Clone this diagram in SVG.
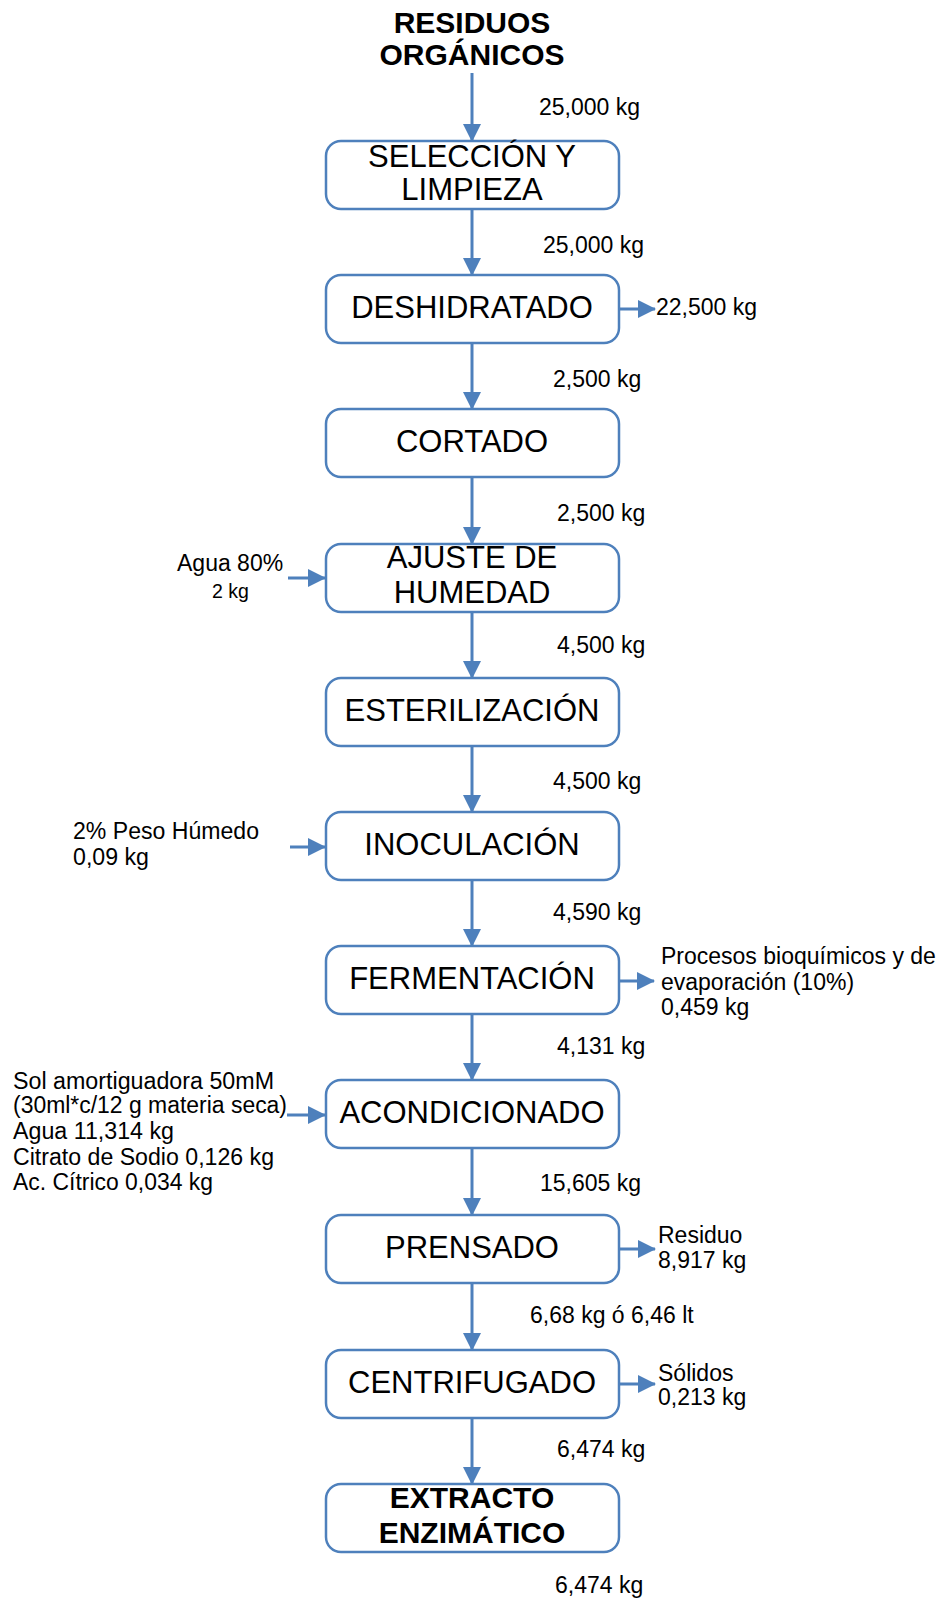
<svg xmlns="http://www.w3.org/2000/svg" width="943" height="1601" viewBox="0 0 943 1601">
<defs>
<style>
.box{fill:#fff;stroke:#4E80BC;stroke-width:2.5}
.ln{stroke:#4E80BC;stroke-width:3;fill:none}
.bt{font-family:"Liberation Sans",Arial,sans-serif;font-size:31px;fill:#000;text-anchor:middle}
.bb{font-family:"Liberation Sans",Arial,sans-serif;font-size:30px;font-weight:bold;fill:#000;text-anchor:middle}
.lb{font-family:"Liberation Sans",Arial,sans-serif;font-size:23px;fill:#000}
.sm{font-family:"Liberation Sans",Arial,sans-serif;font-size:19.5px;fill:#000}
</style>
<marker id="ah" markerUnits="userSpaceOnUse" markerWidth="18" markerHeight="18" refX="17" refY="9" orient="auto">
<path d="M0,0 L18,9 L0,18 z" fill="#4E80BC"/>
</marker>
</defs>
<rect width="943" height="1601" fill="#fff"/>

<g id="connectors">
<line class="ln" x1="472" y1="73" x2="472" y2="141" marker-end="url(#ah)"/>
<line class="ln" x1="472" y1="209" x2="472" y2="275" marker-end="url(#ah)"/>
<line class="ln" x1="472" y1="343" x2="472" y2="409" marker-end="url(#ah)"/>
<line class="ln" x1="472" y1="477" x2="472" y2="544" marker-end="url(#ah)"/>
<line class="ln" x1="472" y1="612" x2="472" y2="678" marker-end="url(#ah)"/>
<line class="ln" x1="472" y1="746" x2="472" y2="812" marker-end="url(#ah)"/>
<line class="ln" x1="472" y1="880" x2="472" y2="946" marker-end="url(#ah)"/>
<line class="ln" x1="472" y1="1014" x2="472" y2="1080" marker-end="url(#ah)"/>
<line class="ln" x1="472" y1="1148" x2="472" y2="1215" marker-end="url(#ah)"/>
<line class="ln" x1="472" y1="1283" x2="472" y2="1350" marker-end="url(#ah)"/>
<line class="ln" x1="472" y1="1418" x2="472" y2="1484" marker-end="url(#ah)"/>
<line class="ln" x1="619" y1="309" x2="655" y2="309" marker-end="url(#ah)"/>
<line class="ln" x1="619" y1="981" x2="654" y2="981" marker-end="url(#ah)"/>
<line class="ln" x1="619" y1="1249" x2="655" y2="1249" marker-end="url(#ah)"/>
<line class="ln" x1="619" y1="1384" x2="655" y2="1384" marker-end="url(#ah)"/>
<line class="ln" x1="288" y1="578" x2="325" y2="578" marker-end="url(#ah)"/>
<line class="ln" x1="290" y1="847" x2="325" y2="847" marker-end="url(#ah)"/>
<line class="ln" x1="287" y1="1115" x2="325" y2="1115" marker-end="url(#ah)"/>
</g>

<g id="n-residuos">
<text class="bb" x="472" y="33">RESIDUOS</text>
<text class="bb" x="472" y="65">ORGÁNICOS</text>
</g>
<g id="n-seleccion">
<rect class="box" x="326" y="141" width="293" height="68" rx="15"/>
<text class="bt" x="472" y="167">SELECCIÓN Y</text>
<text class="bt" x="472" y="200">LIMPIEZA</text>
</g>
<g id="n-deshidratado">
<rect class="box" x="326" y="275" width="293" height="68" rx="15"/>
<text class="bt" x="472" y="318">DESHIDRATADO</text>
</g>
<g id="n-cortado">
<rect class="box" x="326" y="409" width="293" height="68" rx="15"/>
<text class="bt" x="472" y="452">CORTADO</text>
</g>
<g id="n-ajuste">
<rect class="box" x="326" y="544" width="293" height="68" rx="15"/>
<text class="bt" x="472" y="568">AJUSTE DE</text>
<text class="bt" x="472" y="603">HUMEDAD</text>
</g>
<g id="n-esterilizacion">
<rect class="box" x="326" y="678" width="293" height="68" rx="15"/>
<text class="bt" x="472" y="721">ESTERILIZACIÓN</text>
</g>
<g id="n-inoculacion">
<rect class="box" x="326" y="812" width="293" height="68" rx="15"/>
<text class="bt" x="472" y="855">INOCULACIÓN</text>
</g>
<g id="n-fermentacion">
<rect class="box" x="326" y="946" width="293" height="68" rx="15"/>
<text class="bt" x="472" y="989">FERMENTACIÓN</text>
</g>
<g id="n-acondicionado">
<rect class="box" x="326" y="1080" width="293" height="68" rx="15"/>
<text class="bt" x="472" y="1123">ACONDICIONADO</text>
</g>
<g id="n-prensado">
<rect class="box" x="326" y="1215" width="293" height="68" rx="15"/>
<text class="bt" x="472" y="1258">PRENSADO</text>
</g>
<g id="n-centrifugado">
<rect class="box" x="326" y="1350" width="293" height="68" rx="15"/>
<text class="bt" x="472" y="1393">CENTRIFUGADO</text>
</g>
<g id="n-extracto">
<rect class="box" x="326" y="1484" width="293" height="68" rx="15"/>
<text class="bb" x="472" y="1508">EXTRACTO</text>
<text class="bb" x="472" y="1543">ENZIMÁTICO</text>
</g>

<g id="labels">
<text class="lb" x="539" y="115">25,000 kg</text>
<text class="lb" x="543" y="253">25,000 kg</text>
<text class="lb" x="553" y="387">2,500 kg</text>
<text class="lb" x="557" y="521">2,500 kg</text>
<text class="lb" x="557" y="653">4,500 kg</text>
<text class="lb" x="553" y="789">4,500 kg</text>
<text class="lb" x="553" y="920">4,590 kg</text>
<text class="lb" x="557" y="1054">4,131 kg</text>
<text class="lb" x="540" y="1191">15,605 kg</text>
<text class="lb" x="530" y="1323">6,68 kg ó 6,46 lt</text>
<text class="lb" x="557" y="1457">6,474 kg</text>
<text class="lb" x="555" y="1593">6,474 kg</text>

<text class="lb" x="656" y="315">22,500 kg</text>
<text class="lb" x="661" y="964">Procesos bioquímicos y de</text>
<text class="lb" x="661" y="990">evaporación (10%)</text>
<text class="lb" x="661" y="1015">0,459 kg</text>
<text class="lb" x="658" y="1243">Residuo</text>
<text class="lb" x="658" y="1268">8,917 kg</text>
<text class="lb" x="658" y="1381">Sólidos</text>
<text class="lb" x="658" y="1405">0,213 kg</text>

<text class="lb" x="177" y="571">Agua 80%</text>
<text class="sm" x="212" y="598">2 kg</text>
<text class="lb" x="73" y="839" textLength="186" lengthAdjust="spacingAndGlyphs">2% Peso Húmedo</text>
<text class="lb" x="73" y="865" textLength="76" lengthAdjust="spacingAndGlyphs">0,09 kg</text>
<text class="lb" x="13" y="1089" textLength="261" lengthAdjust="spacingAndGlyphs">Sol amortiguadora 50mM</text>
<text class="lb" x="13" y="1113" textLength="274" lengthAdjust="spacingAndGlyphs">(30ml*c/12 g materia seca)</text>
<text class="lb" x="13" y="1139" textLength="161" lengthAdjust="spacingAndGlyphs">Agua 11,314 kg</text>
<text class="lb" x="13" y="1165" textLength="261" lengthAdjust="spacingAndGlyphs">Citrato de Sodio 0,126 kg</text>
<text class="lb" x="13" y="1190" textLength="200" lengthAdjust="spacingAndGlyphs">Ac. Cítrico 0,034 kg</text>
</g>
</svg>
